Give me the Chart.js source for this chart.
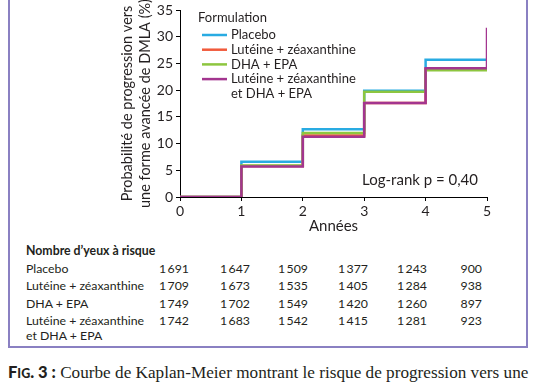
<!DOCTYPE html>
<html>
<head>
<meta charset="utf-8">
<script src="https://cdn.jsdelivr.net/npm/chart.js@4.4.1/dist/chart.umd.min.js"></script>
<style>
body { margin: 0; background: #fff; width: 536px; height: 386px; overflow: hidden; position: relative; font-family: Lato, sans-serif; color: #231f20; }
#box { position: absolute; left: 8px; top: -10px; width: 516px; height: 354px; border: 2px solid #8a80c2; }
#chart { position: absolute; left: 0; top: 0; }
.cell { position: absolute; font-size: 12.3px; line-height: 17px; white-space: nowrap; }
#cap { position: absolute; left: 8px; top: 362px; font: 17.2px "Liberation Serif", serif; white-space: nowrap; color: #231f20; }
#cap b { font-family: Lato, sans-serif; font-weight: 900; font-size: 16.5px; }
#cap b small { font-size: 12.5px; }
</style>
</head>
<body>
<div id="box"></div>
<canvas id="chart" width="536" height="240"></canvas>
<div id="table"></div>
<div id="cap"><b>F<small>IG</small>. 3 :</b> Courbe de Kaplan-Meier montrant le risque de progression vers une</div>
<script>
// years of follow-up
const years = [0, 1, 2, 3, 4, 5];
const yTicks = [0, 5, 10, 15, 20, 25, 30, 35];

// cumulative probability of progression (%)
const placebo = [0, 6.6, 12.7, 19.9, 25.7, 25.7];
const luteine = [0, 5.8, 11.5, 17.6, 23.9, 23.9];
const dha = [0, 5.9, 12.0, 19.7, 23.7, 23.7];
const combo = [0, 5.7, 11.3, 17.6, 24.1, 31.7];

const groupNames = ["Placebo", "Lutéine + zéaxanthine", "DHA + EPA", "Lutéine + zéaxanthine\net DHA + EPA"];
const groupColors = ["#29abe2", "#f15a3b", "#8dc63f", "#a3358f"];

// number of eyes at risk
const riskPlacebo = ["1\u2009691", "1\u2009647", "1\u2009509", "1\u2009377", "1\u2009243", "900"];
const riskLuteine = ["1\u2009709", "1\u2009673", "1\u2009535", "1\u2009405", "1\u2009284", "938"];
const riskDha = ["1\u2009749", "1\u2009702", "1\u2009549", "1\u2009420", "1\u2009260", "897"];
const riskCombo = ["1\u2009742", "1\u2009683", "1\u2009542", "1\u2009415", "1\u2009281", "923"];

const allSeries = [placebo, luteine, dha, combo];
const allRisk = [riskPlacebo, riskLuteine, riskDha, riskCombo];

const txt = "#231f20";

// legend + log-rank text inside the plot
const legendPlugin = {
    id: 'kmLegend',
    afterDraw(chart) {
        const ctx = chart.ctx;
        const a = chart.chartArea;
        ctx.save();
        ctx.fillStyle = txt;
        ctx.textBaseline = 'middle';
        ctx.font = '13px Lato';
        ctx.fillText('Formulation', a.left + 18, a.top + 8);
        let y = a.top + 25;
        chart.data.datasets.forEach(function (ds, i) {
            ctx.strokeStyle = ds.borderColor;
            ctx.lineWidth = 2.5;
            ctx.beginPath();
            ctx.moveTo(a.left + 22, y);
            ctx.lineTo(a.left + 47, y);
            ctx.stroke();
            ctx.fillStyle = txt;
            groupNames[i].split('\n').forEach(function (line) {
                ctx.fillText(line, a.left + 51, y);
                y += 14.7;
            });
        });
        ctx.font = '15px Lato';
        ctx.textAlign = 'right';
        ctx.fillText('Log-rank p = 0,40', a.right - 9, a.bottom - 17);
        ctx.restore();
    }
};

new Chart(document.getElementById("chart"), {
    type: 'line',
    data: {
        labels: years,
        datasets: allSeries.map(function (s, i) {
            return {
                label: groupNames[i],
                data: years.map(function (x, j) { return { x: x, y: s[j] }; }),
                borderColor: groupColors[i],
                backgroundColor: groupColors[i],
                borderWidth: 2.5,
                pointRadius: 0,
                stepped: 'before',
                order: 3 - i
            };
        })
    },
    options: {
        responsive: false,
        animation: false,
        layout: { padding: { left: 110, right: 49, top: 7, bottom: 0 } },
        plugins: { legend: { display: false }, tooltip: { enabled: false } },
        scales: {
            x: {
                type: 'linear',
                min: 0,
                max: 5,
                afterFit: function (s) { s.height = 43; },
                ticks: { stepSize: 1, color: txt, font: { family: 'Lato', size: 14 }, padding: 2 },
                grid: { drawOnChartArea: false, drawTicks: true, tickLength: 4, color: '#000' },
                border: { color: '#000', width: 1 },
                title: { display: true, text: 'Années', color: txt, font: { family: 'Lato', size: 15 }, padding: { top: 0, bottom: 5 } }
            },
            y: {
                min: 0,
                max: 35,
                afterFit: function (s) { s.width = 70; },
                afterBuildTicks: function (s) { s.ticks = yTicks.map(function (v) { return { value: v }; }); },
                ticks: { color: txt, font: { family: 'Lato', size: 14, lineHeight: 1 }, padding: 3 },
                grid: { drawOnChartArea: false, drawTicks: true, tickLength: 4, color: '#000' },
                border: { color: '#000', width: 1 },
                title: {
                    display: true,
                    text: ['Probabilité de progression vers', 'une forme avancée de DMLA (%)'],
                    color: txt,
                    font: { family: 'Lato', size: 14.5, lineHeight: 1.25 },
                    padding: { top: 8, bottom: 0 }
                }
            }
        }
    },
    plugins: [legendPlugin]
});

// table of eyes at risk
const table = document.getElementById('table');
const colEnds = [189, 250, 308, 368, 427, 482];
function addCell(text, top, left, right, bold) {
    const d = document.createElement('div');
    d.className = 'cell';
    d.textContent = text;
    d.style.top = top + 'px';
    if (left !== null) d.style.left = left + 'px';
    if (right !== null) d.style.right = right + 'px';
    if (bold) d.style.fontWeight = '700';
    table.appendChild(d);
}
addCell("Nombre d’yeux à risque", 242, 26, null, true);
let rowTop = 260;
allRisk.forEach(function (row, i) {
    groupNames[i].split('\n').forEach(function (line, k) {
        addCell(line, rowTop + k * 15, 26, null, false);
    });
    row.forEach(function (v, j) {
        addCell(v, rowTop, null, 536 - colEnds[j], false);
    });
    rowTop += 17.3;
});
</script>
</body>
</html>
